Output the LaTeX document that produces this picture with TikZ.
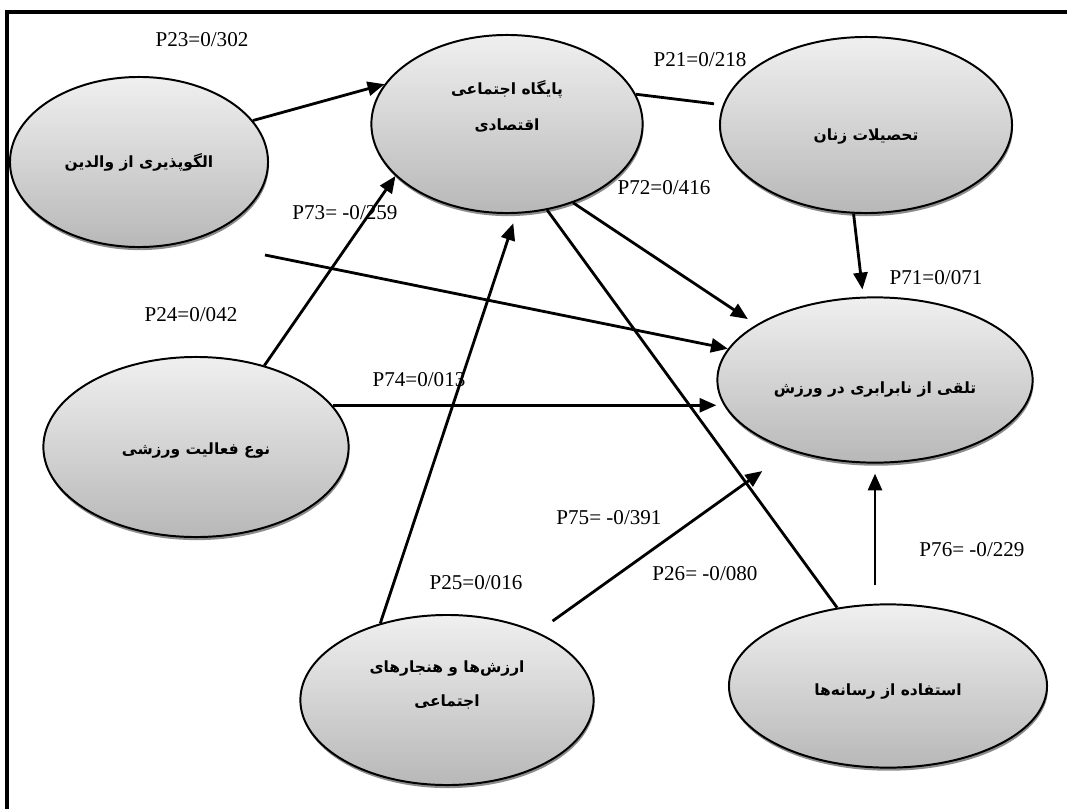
\documentclass[tikz,border=0pt]{standalone}
\usepackage{fontspec}
\setmainfont{Liberation Serif}
\newfontfamily\farsifont[Script=Arabic]{DejaVu Sans}
\TeXXeTstate=1
\usetikzlibrary{arrows.meta,shapes.geometric,shadows}

% Persian line, raised by the optional amount
\newcommand{\fa}[2][0cm]{\raisebox{#1}[0pt][0pt]{\makebox[0pt]{\farsifont\bfseries\beginR #2\endR}}}

\begin{document}
\begin{tikzpicture}[
    x=0.025cm, y=-0.025cm,
    >={Triangle[length=12pt,width=10pt]},
    font=\fontsize{15}{18}\selectfont,
    var/.style={
        ellipse,
        draw=black,
        line width=1.4pt,
        inner sep=0pt,
        top color=black!6,
        bottom color=black!28,
        drop shadow={shadow xshift=0.6pt, shadow yshift=-2.2pt, fill=black!45, opacity=1},
        font=\fontsize{11}{13}\selectfont
    },
    lbl/.style={inner sep=1pt},
    arr/.style={->, line width=2pt},
    link/.style={line width=2pt}
]
\useasboundingbox (0,0) rectangle (1067,809);

% frame
\draw[line width=2.5pt] (1067,12) -- (7,12) -- (7,809);

% top row
\node[var, minimum width=6.45cm, minimum height=4.25cm] (alg) at (139,162)
{\fa[-0.125cm]{الگوپذیری از والدین}};

\node[var, minimum width=6.78cm, minimum height=4.45cm] (payg) at (507,124)
{\fa[0.725cm]{پایگاه اجتماعی}\fa[-0.15cm]{اقتصادی}};

\node[var, minimum width=7.3cm, minimum height=4.4cm] (tahs) at (866,125)
{\fa[-0.375cm]{تحصیلات زنان}};

% middle row
\node[var, minimum width=7.63cm, minimum height=4.5cm] (now) at (196,447)
{\fa[-0.175cm]{نوع فعالیت ورزشی}};

\node[var, minimum width=7.88cm, minimum height=4.13cm] (talaq) at (875,380)
{\fa[-0.325cm]{تلقی از نابرابری در ورزش}};

% bottom row
\node[var, minimum width=7.33cm, minimum height=4.25cm] (arzesh) at (447,700)
{\fa[0.7cm]{ارزش‌ها و هنجارهای}\fa[-0.15cm]{اجتماعی}};

\node[var, minimum width=7.95cm, minimum height=4.08cm] (estef) at (888,686)
{\fa[-0.225cm]{استفاده از رسانه‌ها}};

\coordinate (free) at (265,255);

% paths
\draw[arr] (alg.20) -- (payg.162);
\draw[arr] (now.50) -- (payg.205);
\draw[arr, shorten >=0.25cm] (arzesh.131) -- (payg.276);
\draw[link, shorten >=0.22cm] (payg.13) -- (tahs.172);
\draw[arr, shorten >=0.18cm] (tahs.262) -- (talaq.98);
\draw[arr, shorten >=0.25cm] (payg.-50) -- (talaq.155);
\draw[arr] (free) -- (talaq.168);
\draw[arr] (now.17) -- (now.17 -| talaq.west);
\draw[link] (payg.-65) -- (estef.123);
\draw[arr, shorten <=0.47cm, shorten >=0.87cm] (arzesh.37) -- (talaq.220);
\draw[arr, shorten <=0.45cm, shorten >=0.25cm] (talaq.south |- estef.north) -- (talaq.south);

% coefficients
\node[lbl] (p23) at (202,40) {P23=0/302};
\node[lbl] (p21) at (700,60) {P21=0/218};
\node[lbl] (p72) at (664,188) {P72=0/416};
\node[lbl] (p73) at (345,213) {P73= -0/259};
\node[lbl] (p71) at (936,278) {P71=0/071};
\node[lbl] (p24) at (191,315) {P24=0/042};
\node[lbl] (p74) at (419,380) {P74=0/013};
\node[lbl] (p75) at (609,518) {P75= -0/391};
\node[lbl] (p76) at (972,550) {P76= -0/229};
\node[lbl] (p26) at (705,574) {P26= -0/080};
\node[lbl] (p25) at (476,583) {P25=0/016};

\end{tikzpicture}
\end{document}
